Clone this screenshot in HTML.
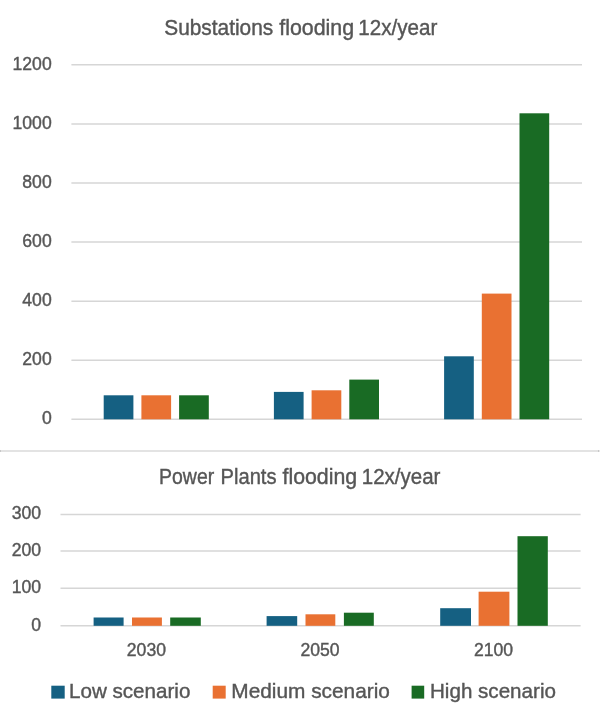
<!DOCTYPE html>
<html lang="en"><head><meta charset="utf-8"><title>Flooding charts</title>
<style>
html,body{margin:0;padding:0;background:#fff;}
body{width:600px;height:722px;overflow:hidden;}
svg{display:block;}
text{font-family:"Liberation Sans",Arial,sans-serif;fill:#565656;stroke:#565656;stroke-width:0.4px;}
.t{font-size:21.2px;}
.a{font-size:17.6px;}
.l{font-size:20.7px;}
</style></head><body>
<svg width="600" height="722" viewBox="0 0 600 722">
<rect x="0" y="0" width="600" height="722" fill="#fff"/>

<rect x="0" y="450" width="599.3" height="2" fill="#E3E3E3"/>
<rect x="0" y="450" width="1" height="2" fill="#C8C8C8"/>
<rect x="598" y="450" width="1.3" height="2" fill="#C8C8C8"/>
<line x1="71.4" y1="64.80" x2="582.0" y2="64.80" stroke="#D6D6D6" stroke-width="1.5"/>
<text class="a" x="51.7" y="69.55" text-anchor="end">1200</text>
<line x1="71.4" y1="123.88" x2="582.0" y2="123.88" stroke="#D6D6D6" stroke-width="1.5"/>
<text class="a" x="51.7" y="128.63" text-anchor="end">1000</text>
<line x1="71.4" y1="182.97" x2="582.0" y2="182.97" stroke="#D6D6D6" stroke-width="1.5"/>
<text class="a" x="51.7" y="187.72" text-anchor="end">800</text>
<line x1="71.4" y1="242.05" x2="582.0" y2="242.05" stroke="#D6D6D6" stroke-width="1.5"/>
<text class="a" x="51.7" y="246.80" text-anchor="end">600</text>
<line x1="71.4" y1="301.13" x2="582.0" y2="301.13" stroke="#D6D6D6" stroke-width="1.5"/>
<text class="a" x="51.7" y="305.88" text-anchor="end">400</text>
<line x1="71.4" y1="360.22" x2="582.0" y2="360.22" stroke="#D6D6D6" stroke-width="1.5"/>
<text class="a" x="51.7" y="364.97" text-anchor="end">200</text>
<line x1="71.4" y1="419.30" x2="582.0" y2="419.30" stroke="#D6D6D6" stroke-width="1.5"/>
<text class="a" x="51.7" y="424.05" text-anchor="end">0</text>
<rect x="103.70" y="395.30" width="29.7" height="24.00" fill="#156082"/>
<rect x="141.40" y="395.30" width="29.7" height="24.00" fill="#E97132"/>
<rect x="179.10" y="395.30" width="29.7" height="24.00" fill="#196B24"/>
<rect x="273.90" y="391.90" width="29.7" height="27.40" fill="#156082"/>
<rect x="311.60" y="390.30" width="29.7" height="29.00" fill="#E97132"/>
<rect x="349.30" y="379.60" width="29.7" height="39.70" fill="#196B24"/>
<rect x="444.10" y="356.30" width="29.7" height="63.00" fill="#156082"/>
<rect x="481.80" y="293.60" width="29.7" height="125.70" fill="#E97132"/>
<rect x="519.50" y="113.30" width="29.7" height="306.00" fill="#196B24"/>
<line x1="60.5" y1="514.60" x2="580.6" y2="514.60" stroke="#D6D6D6" stroke-width="1.5"/>
<text class="a" x="41.1" y="519.45" text-anchor="end">300</text>
<line x1="60.5" y1="551.10" x2="580.6" y2="551.10" stroke="#D6D6D6" stroke-width="1.5"/>
<text class="a" x="41.1" y="555.95" text-anchor="end">200</text>
<line x1="60.5" y1="588.30" x2="580.6" y2="588.30" stroke="#D6D6D6" stroke-width="1.5"/>
<text class="a" x="41.1" y="593.15" text-anchor="end">100</text>
<line x1="60.5" y1="625.80" x2="580.6" y2="625.80" stroke="#D6D6D6" stroke-width="1.5"/>
<text class="a" x="41.1" y="630.65" text-anchor="end">0</text>
<rect x="93.60" y="617.50" width="30.00" height="8.30" fill="#156082"/>
<rect x="132.00" y="617.50" width="29.90" height="8.30" fill="#E97132"/>
<rect x="170.20" y="617.50" width="30.60" height="8.30" fill="#196B24"/>
<rect x="266.60" y="616.10" width="30.60" height="9.70" fill="#156082"/>
<rect x="305.50" y="614.30" width="29.80" height="11.50" fill="#E97132"/>
<rect x="343.90" y="612.70" width="29.90" height="13.10" fill="#196B24"/>
<rect x="440.20" y="608.20" width="30.80" height="17.60" fill="#156082"/>
<rect x="478.60" y="591.70" width="30.80" height="34.10" fill="#E97132"/>
<rect x="517.50" y="536.20" width="30.30" height="89.60" fill="#196B24"/>
<text class="a" x="146.4" y="656.2" text-anchor="middle">2030</text>
<text class="a" x="320.0" y="656.2" text-anchor="middle">2050</text>
<text class="a" x="493.5" y="656.2" text-anchor="middle">2100</text>
<text class="t" y="34.8"><tspan x="164.25" textLength="108.94" lengthAdjust="spacingAndGlyphs">Substations</tspan> <tspan x="279.25" textLength="74.89" lengthAdjust="spacingAndGlyphs">flooding</tspan> <tspan x="358.26" textLength="79.06" lengthAdjust="spacingAndGlyphs">12x/year</tspan></text>
<text class="t" y="484.1"><tspan x="159.10" textLength="55.09" lengthAdjust="spacingAndGlyphs">Power</tspan> <tspan x="220.55" textLength="56.00" lengthAdjust="spacingAndGlyphs">Plants</tspan> <tspan x="282.50" textLength="74.64" lengthAdjust="spacingAndGlyphs">flooding</tspan> <tspan x="361.77" textLength="78.65" lengthAdjust="spacingAndGlyphs">12x/year</tspan></text>
<rect x="51.3" y="685.7" width="13.4" height="12.9" fill="#156082"/>
<text x="69.0" y="697.9" style="font-size:20.6px">Low scenario</text>
<rect x="212.7" y="685.7" width="13.0" height="12.9" fill="#E97132"/>
<text x="231.3" y="697.9" style="font-size:20.83px">Medium scenario</text>
<rect x="411.6" y="685.7" width="12.6" height="12.9" fill="#196B24"/>
<text x="430.0" y="697.9" style="font-size:20.6px">High scenario</text>
</svg></body></html>
